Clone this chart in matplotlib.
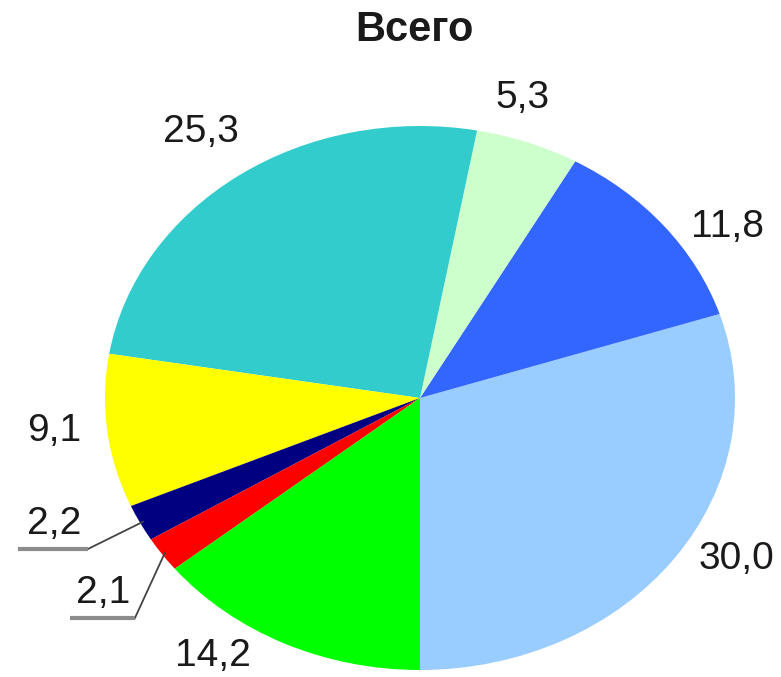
import matplotlib.pyplot as plt
import numpy as np

plt.rcParams['font.family'] = ['Liberation Sans', 'DejaVu Sans']

# data: counterclockwise from 6 o'clock
values = [30.0, 11.8, 5.3, 25.3, 9.1, 2.2, 2.1, 14.2]
labels = ['30,0', '11,8', '5,3', '25,3', '9,1', '2,2', '2,1', '14,2']
colors = ['#99CCFF', '#3366FF', '#CCFFCC', '#33CCCC', '#FFFF00',
          '#000080', '#FF0000', '#00FF00']
title = 'Всего'

W, H = 781, 677
cx, cy = 420, 398      # pie centre in pixels
rx, ry = 315, 272      # pie radii in pixels (flattened pie)

fig = plt.figure(figsize=(W / 100, H / 100), dpi=100)
ax = fig.add_axes([0, 0, 1, 1])
wedges, _ = ax.pie(values, colors=colors, startangle=-90, counterclock=True,
                   wedgeprops=dict(linewidth=0))
ax.set_aspect('auto')
ax.set_xlim(-cx / rx, (W - cx) / rx)
ax.set_ylim(-(H - cy) / ry, cy / ry)
ax.axis('off')

def pol(ang, r):
    a = np.deg2rad(ang)
    return r * np.cos(a), r * np.sin(a)

# mid-angles of the wedges
mids = [(w.theta1 + w.theta2) / 2 for w in wedges]

# label distance / angle nudges for the plain labels
lab_r = {0: 1.165, 1: 1.16, 2: 1.15, 3: 1.2, 4: 1.168, 7: 1.154}
lab_da = {0: 5.5, 1: -6.5, 2: 3.5, 3: 0.4, 4: -1, 7: -9.1}
for i, txt in enumerate(labels):
    if i in lab_r:
        x, y = pol(mids[i] + lab_da[i], lab_r[i])
        ax.text(x, y, txt, fontsize=28, ha='center', va='center', color='#1a1a1a')

# leader lines for the two thin slices: knee point, end of underline, text right edge
leaders = {5: ((-1.054, -0.555), -1.276, -1.075),
           6: ((-0.905, -0.809), -1.111, -0.92)}
for i, (knee, xend, tx) in leaders.items():
    sx, sy = pol(mids[i], 0.99)
    ax.plot([sx, knee[0]], [sy, knee[1]], color='#444444', lw=1.3)
    ax.plot([knee[0], xend], [knee[1], knee[1]], color='#8c8c8c', lw=3,
            solid_capstyle='butt')
    ax.text(tx, knee[1] + 0.055, labels[i], fontsize=28, ha='right',
            va='baseline', color='#1a1a1a')

fig.text(414 / W, 1 - 30 / H, title, fontsize=30, fontweight='bold',
         ha='center', va='center', color='#1a1a1a')

fig.savefig('out.png', dpi=100)
